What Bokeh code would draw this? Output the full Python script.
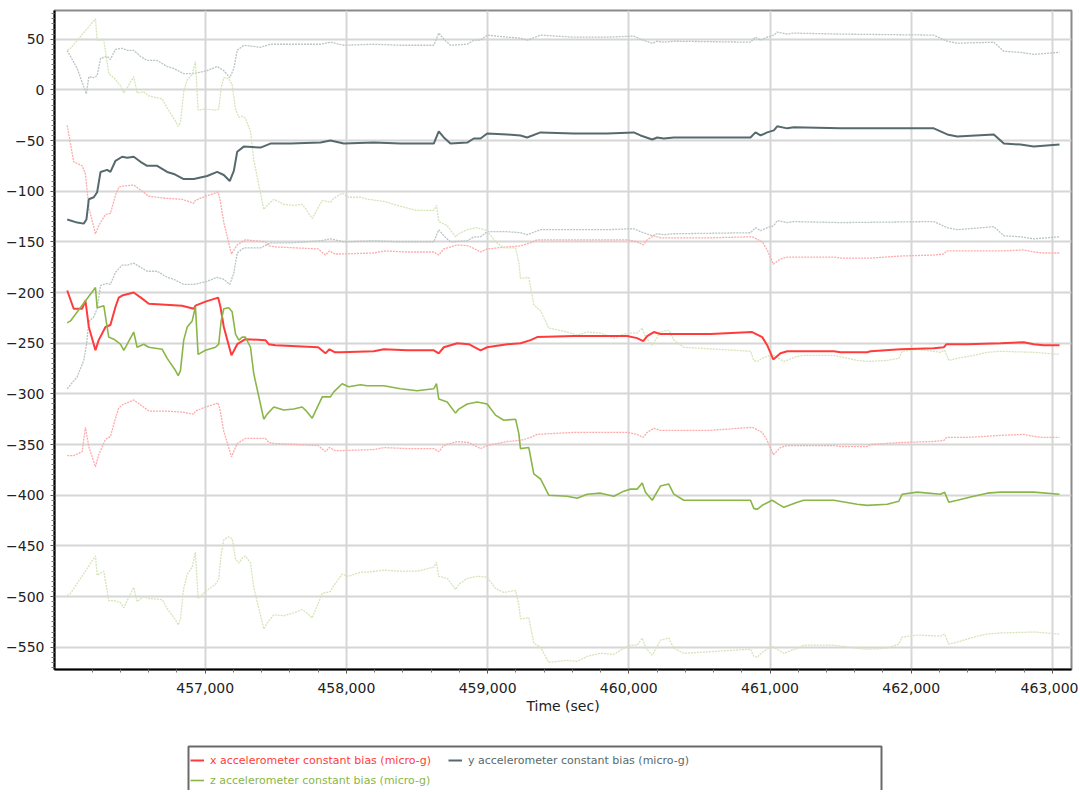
import numpy as np
from bokeh.plotting import figure
from bokeh.layouts import column
from bokeh.models import (Range1d, FixedTicker, NumeralTickFormatter, Legend,
                          LegendItem, BoxAnnotation, ColumnDataSource)
from bokeh.embed import file_html
from bokeh.resources import INLINE

# ---------------- data ----------------
x_time = [456023, 456069, 456129, 456152, 456176, 456223, 456246, 456294, 456329, 456365,
          456388, 456412, 456494, 456554, 456601, 456719, 456837, 456919, 456931, 457002,
          457092, 457108, 457132, 457186, 457227, 457285, 457427, 457450, 457498, 457800,
          457852, 457880, 457920, 457958, 458194, 458265, 458430, 458619, 458654, 458690,
          458785, 458867, 458950, 458997, 459139, 459233, 459304, 459351, 459610, 459989,
          460059, 460102, 460130, 460177, 460224, 460579, 460874, 460945, 460980, 461023,
          461074, 461122, 461452, 461499, 461688, 461712, 461924, 462160, 462231, 462250,
          462396, 462632, 462797, 462868, 462939, 463050]
x_bias = [-198, -216, -216, -208, -234, -257, -247, -234, -232, -214,
          -205, -203, -200, -206, -211, -212, -213, -216, -213, -209,
          -205, -214, -234, -262, -251, -246, -247, -251, -252, -254,
          -260, -256, -259, -259, -258, -256, -257, -257, -260, -254,
          -250, -251, -257, -254, -251, -250, -247, -244, -243, -243,
          -245, -248, -243, -239, -241, -241, -239, -244, -252, -266,
          -260, -258, -258, -259, -259, -258, -256, -255, -254, -251,
          -251, -250, -249, -251, -252, -252]
x_sigma = [163, 145, 141, 125, 118, 115, 113, 111, 110, 110,
           109, 108, 106, 106, 106, 105, 105, 104, 104, 104,
           104, 104, 103, 100, 98, 98, 97, 97, 97, 97,
           97, 97, 97, 97, 97, 97, 97, 97, 97, 97,
           97, 97, 97, 97, 96, 96, 96, 96, 95, 95,
           95, 95, 95, 95, 95, 95, 94, 94, 94, 94,
           93, 93, 93, 93, 93, 92, 92, 92, 92, 92,
           92, 91, 91, 91, 91, 91]

y_time = [456023, 456094, 456140, 456159, 456176, 456211, 456235, 456259, 456306, 456329,
          456365, 456412, 456448, 456494, 456542, 456589, 456660, 456731, 456778, 456848,
          456919, 457014, 457085, 457132, 457174, 457203, 457227, 457273, 457392, 457462,
          457604, 457817, 457887, 457982, 458194, 458383, 458619, 458654, 458690, 458737,
          458856, 458902, 458950, 458997, 459139, 459233, 459280, 459375, 459610, 459847,
          460035, 460083, 460166, 460201, 460248, 460319, 460862, 460897, 460933, 460980,
          461027, 461051, 461122, 461168, 461499, 462160, 462255, 462326, 462585, 462656,
          462774, 462868, 463050]
y_bias = [-128, -131, -132, -128, -108, -106, -101, -81, -79, -81,
          -70, -66, -67, -66, -71, -75, -75, -81, -83, -88,
          -88, -85, -81, -84, -90, -80, -61, -56, -57, -53,
          -53, -52, -50, -53, -52, -53, -53, -41, -47, -53,
          -52, -48, -48, -43, -44, -45, -47, -42, -43, -43,
          -42, -45, -49, -47, -48, -47, -47, -42, -45, -42,
          -40, -36, -38, -37, -38, -38, -44, -46, -44, -53,
          -54, -56, -54]
y_sigma = [167, 152, 135, 124, 121, 118, 115, 112, 112, 111,
           110, 107, 106, 105, 104, 104, 104, 104, 104, 104,
           104, 104, 104, 103, 102, 101, 100, 100, 99, 98,
           98, 97, 97, 97, 97, 97, 97, 97, 97, 97,
           97, 97, 97, 97, 96, 96, 96, 96, 95, 95,
           95, 95, 95, 95, 95, 95, 94, 94, 94, 94,
           94, 93, 93, 93, 93, 92, 92, 92, 91, 91,
           91, 91, 91]

z_time = [456023, 456046, 456223, 456235, 456282, 456317, 456353, 456400, 456424, 456448,
          456494, 456518, 456565, 456601, 456696, 456731, 456790, 456809, 456825, 456848,
          456873, 456908, 456931, 456950, 457002, 457073, 457096, 457113, 457132, 457167,
          457191, 457215, 457238, 457262, 457285, 457321, 457344, 457415, 457439, 457486,
          457557, 457627, 457687, 457710, 457758, 457829, 457887, 457911, 457970, 458017,
          458100, 458147, 458265, 458383, 458501, 458619, 458638, 458654, 458714, 458773,
          458796, 458856, 458926, 458997, 459056, 459115, 459198, 459221, 459233, 459292,
          459327, 459375, 459433, 459564, 459634, 459705, 459800, 459894, 459965, 460012,
          460059, 460095, 460118, 460166, 460224, 460283, 460319, 460389, 460508, 460862,
          460885, 460909, 460945, 461015, 461062, 461098, 461193, 461239, 461452, 461617,
          461688, 461830, 461912, 461936, 462042, 462207, 462236, 462266, 462326, 462443,
          462538, 462632, 462868, 463050]
z_bias = [-230, -228, -195, -215, -213, -244, -246, -251, -257, -251,
          -239, -254, -251, -254, -256, -265, -277, -282, -277, -247,
          -234, -228, -214, -261, -257, -254, -251, -228, -216, -215,
          -219, -241, -247, -244, -244, -254, -280, -325, -320, -313,
          -316, -315, -313, -316, -324, -303, -303, -298, -290, -293,
          -291, -292, -292, -295, -297, -295, -290, -305, -308, -319,
          -315, -310, -308, -310, -321, -326, -325, -339, -354, -353,
          -379, -384, -400, -401, -403, -399, -398, -401, -396, -394,
          -394, -388, -397, -405, -391, -389, -399, -405, -405, -405,
          -413, -414, -410, -405, -409, -412, -407, -405, -405, -409,
          -410, -409, -406, -399, -397, -399, -397, -407, -405, -401,
          -398, -397, -397, -399]
z_sigma = [269, 269, 265, 264, 262, 260, 258, 255, 254, 253,
           252, 251, 249, 248, 247, 247, 246, 246, 245, 245,
           244, 243, 242, 241, 238, 234, 232, 230, 228, 226,
           224, 222, 220, 218, 216, 213, 211, 207, 206, 205,
           203, 201, 200, 199, 197, 194, 192, 191, 188, 187,
           185, 184, 182, 180, 178, 176, 176, 175, 174, 174,
           173, 172, 172, 171, 171, 170, 169, 169, 168, 168,
           167, 166, 165, 162, 161, 160, 158, 156, 155, 154,
           154, 153, 153, 153, 152, 152, 152, 151, 150, 147,
           146, 146, 145, 144, 144, 144, 144, 143, 143, 142,
           142, 142, 141, 141, 141, 140, 140, 140, 140, 139,
           139, 139, 138, 138]

x_major_ticks = [457000, 458000, 459000, 460000, 461000, 462000, 463000]
y_major_ticks = [-550, -500, -450, -400, -350, -300, -250, -200, -150, -100, -50, 0, 50]

labels = ["x accelerometer constant bias (micro-g)",
          "y accelerometer constant bias (micro-g)",
          "z accelerometer constant bias (micro-g)"]

# ---------------- styling ----------------
main_colors = ["#ff3c3c", "#56696d", "#8ab648"]
env_colors = ["#ffaaaa", "#b9c4c4", "#d5e4b8"]
FONT = "DejaVu Sans"
TXT = "#222222"

p = figure(width=1078, height=728, output_backend="svg", toolbar_location=None,
           x_range=Range1d(455933, 463135), y_range=Range1d(-572, 78.3),
           min_border_left=54, min_border_right=7, min_border_top=10,
           min_border_bottom=59)
p.background_fill_color = "white"
p.border_fill_color = "white"
p.outline_line_color = "#8a8a8a"
p.outline_line_width = 2

minor_x = [t for t in range(456200, 463200, 200) if t not in x_major_ticks]
minor_y = [v for v in range(-570, 80, 5) if v not in y_major_ticks]
p.xaxis.ticker = FixedTicker(ticks=x_major_ticks, minor_ticks=minor_x)
p.yaxis.ticker = FixedTicker(ticks=y_major_ticks, minor_ticks=minor_y)
p.xaxis.formatter = NumeralTickFormatter(format="0,0")

for ax in (p.xaxis, p.yaxis):
    ax.axis_line_color = "black"
    ax.axis_line_width = 2
    ax.major_tick_line_color = "#555555"
    ax.minor_tick_line_color = "#777777"
    ax.major_tick_out = 4
    ax.major_tick_in = 0
    ax.minor_tick_out = 3
    ax.minor_tick_in = 0
    ax.major_label_text_font = FONT
    ax.major_label_text_font_size = "14px"
    ax.major_label_text_color = TXT
p.yaxis.major_label_standoff = 6
p.xaxis.major_label_standoff = 9
p.xaxis.axis_label = "Time (sec)"
p.xaxis.axis_label_text_font = FONT
p.xaxis.axis_label_text_font_size = "14px"
p.xaxis.axis_label_text_font_style = "normal"
p.xaxis.axis_label_text_color = TXT
p.xaxis.axis_label_standoff = 2

p.xgrid.grid_line_color = "#d6d6d6"
p.ygrid.grid_line_color = "#d6d6d6"
p.xgrid.grid_line_width = 2
p.ygrid.grid_line_width = 2

series = [(x_time, x_bias, x_sigma), (y_time, y_bias, y_sigma), (z_time, z_bias, z_sigma)]

# envelopes (bias +/- sigma), dotted and faint
for (t, m, s), c in zip(series, env_colors):
    m = np.array(m, dtype=float)
    s = np.array(s, dtype=float)
    src = ColumnDataSource(dict(t=t, up=m + s, lo=m - s))
    p.line("t", "up", source=src, line_color=c, line_width=1.3, line_dash="2 1")
    p.line("t", "lo", source=src, line_color=c, line_width=1.3, line_dash="2 1")

widths = [2, 2, 1.6]
for (t, m, s), c, w in zip(series, main_colors, widths):
    src = ColumnDataSource(dict(t=t, v=m))
    p.line("t", "v", source=src, line_color=c, line_width=w)

# ---------------- legend strip below the chart ----------------
# frame of this strip is aligned with the chart frame (page x 54 .. 1071)
leg = figure(width=1078, height=62, output_backend="svg", toolbar_location=None,
             x_range=Range1d(54, 1071), y_range=Range1d(0, 62),
             x_axis_type=None, y_axis_type=None,
             min_border_left=54, min_border_right=7, min_border_top=0,
             min_border_bottom=0)
leg.outline_line_color = None
leg.background_fill_color = "white"
leg.border_fill_color = "white"
leg.xgrid.visible = False
leg.ygrid.visible = False

box = BoxAnnotation(left=188, right=881, top=44, bottom=-20,
                    fill_alpha=0, line_color="#6a6a6a", line_alpha=1.0,
                    line_width=2)
leg.add_layout(box)

legend_pos = [(136, 20), (394, 20), (136, 0)]
nan_pair = np.array([np.nan, np.nan])
for lab, c, w, loc in zip(labels, main_colors, widths, legend_pos):
    r = leg.line(x=nan_pair, y=nan_pair, line_color=c, line_width=w)
    lg = Legend(items=[LegendItem(label=lab, renderers=[r])], location=loc,
                orientation="horizontal", padding=0, margin=0, spacing=0,
                glyph_width=14, glyph_height=20, label_height=20, label_standoff=6,
                label_text_font=FONT, label_text_font_size="11px",
                label_text_color=c, border_line_alpha=0, background_fill_alpha=0)
    leg.add_layout(lg)

layout = column(p, leg, spacing=0)
open("out.html", "w").write(file_html(layout, INLINE))
